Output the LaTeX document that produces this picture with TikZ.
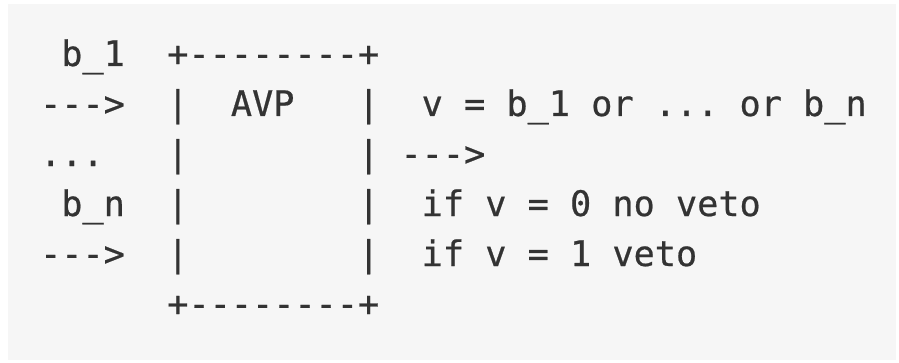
\documentclass[tikz,border=0pt]{standalone}
\usepackage{fontspec}
\setmonofont{DejaVu Sans Mono}[FakeBold=0.6]
\definecolor{codebg}{HTML}{F6F6F6}
\definecolor{codefg}{HTML}{333333}
\begin{document}
\begin{tikzpicture}[x=1pt,y=1pt,
  code/.style={anchor=base west, inner sep=0pt, outer sep=0pt,
    text=codefg, font=\fontsize{35.2}{40}\selectfont\ttfamily}]
\useasboundingbox (0,0) rectangle (899,362);
\fill[white] (0,0) rectangle (899,362);
\fill[codebg] (8,2) rectangle (896,358);
% character grid: column c starts at 40.1 + 21.2 c, rows 50pt apart
% row 0
\node[code] (in1)   at (61.3,296)  {b\_1};
\node[code] (top)   at (167.3,296) {+--------+};
% row 1
\node[code] (arr1)  at (40.1,246)  {--->};
\node[code] (l1)    at (167.3,246) {|};
\node[code] (avp)   at (230.9,246) {AVP};
\node[code] (r1)    at (358.1,246) {|};
\node[code] (expr)  at (421.7,246) {v = b\_1 or ... or b\_n};
% row 2
\node[code] (dots)  at (40.1,196)  {...};
\node[code] (l2)    at (167.3,196) {|};
\node[code] (r2)    at (358.1,196) {|};
\node[code] (out)   at (400.5,196) {--->};
% row 3
\node[code] (inn)   at (61.3,146)  {b\_n};
\node[code] (l3)    at (167.3,146) {|};
\node[code] (r3)    at (358.1,146) {|};
\node[code] (case0) at (421.7,146) {if v = 0 no veto};
% row 4
\node[code] (arrn)  at (40.1,96)   {--->};
\node[code] (l4)    at (167.3,96)  {|};
\node[code] (r4)    at (358.1,96)  {|};
\node[code] (case1) at (421.7,96)  {if v = 1 veto};
% row 5
\node[code] (bot)   at (167.3,46)  {+--------+};
\end{tikzpicture}
\end{document}
